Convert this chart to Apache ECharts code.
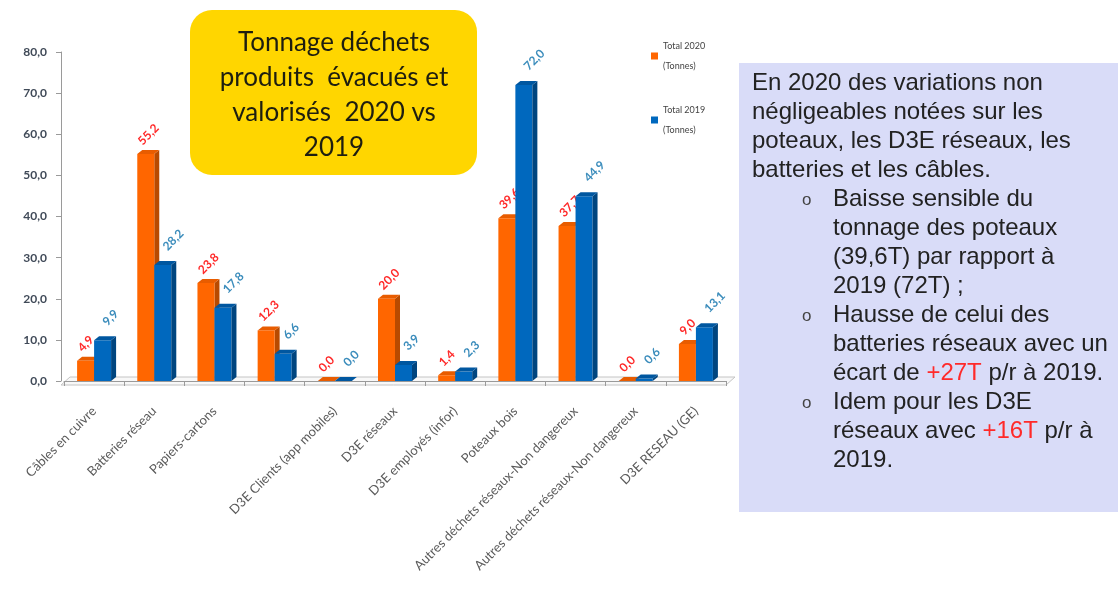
<!DOCTYPE html>
<html>
<head>
<meta charset="utf-8">
<script src="https://cdn.jsdelivr.net/npm/echarts@6/dist/echarts.min.js"></script>
<style>html,body{margin:0;padding:0;background:#fff;}#c{width:1118px;height:590px;}</style>
</head>
<body>
<div id="c"></div>
<script>
const categories = [
  "Câbles en cuivre", "Batteries réseau", "Papiers-cartons", "",
  "D3E Clients (app mobiles)", "D3E réseaux", "D3E employés (infor)",
  "Poteaux bois", "Autres déchets réseaux-Non dangereux",
  "Autres déchets réseaux-Non dangereux", "D3E RESEAU (GE)"
];
const total2020 = [4.9, 55.2, 23.8, 12.3, 0.0, 20.0, 1.4, 39.6, 37.7, 0.0, 9.0];
const total2019 = [9.9, 28.2, 17.8, 6.6, 0.0, 3.9, 2.3, 72.0, 44.9, 0.6, 13.1];
const seriesNames = ["Total 2020\n(Tonnes)", "Total 2019\n(Tonnes)"];
const yMin = 0, yMax = 80, yStep = 10;
const titleLines = ["Tonnage déchets", "produits  évacués et", "valorisés  2020 vs", "2019"];
const noteLines = [
  {t: "En 2020 des variations non", b: false, i: false},
  {t: "négligeables notées sur les", b: false, i: false},
  {t: "poteaux, les D3E réseaux, les", b: false, i: false},
  {t: "batteries et les câbles.", b: false, i: false},
  {t: "Baisse sensible du", b: true, i: true},
  {t: "tonnage des poteaux", b: false, i: true},
  {t: "(39,6T) par rapport à", b: false, i: true},
  {t: "2019 (72T) ;", b: false, i: true},
  {t: "Hausse de celui des", b: true, i: true},
  {t: "batteries réseaux avec un", b: false, i: true},
  {t: "écart de {r|+27T} p/r à 2019.", b: false, i: true},
  {t: "Idem pour les D3E", b: true, i: true},
  {t: "réseaux avec {r|+16T} p/r à", b: false, i: true},
  {t: "2019.", b: false, i: true}
];

const BW = 17, DX = 5, DY = 4;
const colors = {
  o: {face: '#FF6600', side: '#B84A00', top: '#E85C00'},
  b: {face: '#0068BE', side: '#00457F', top: '#0057A0'}
};
const fmt = v => v.toFixed(1).replace('.', ',');

function make3D(off, col) {
  return function (params, api) {
    const i = api.value(0), v = api.value(1);
    const t = api.coord([i, v]);
    const b = api.coord([i, 0]);
    const l = t[0] + off - BW / 2, r = l + BW, top = t[1], bot = b[1];
    return {
      type: 'group',
      children: [
        {type: 'polygon', shape: {points: [[r, top], [r + DX, top - DY], [r + DX, bot - DY], [r, bot]]}, style: {fill: col.side}},
        {type: 'polygon', shape: {points: [[l, top], [l + DX, top - DY], [r + DX, top - DY], [r, top]]}, style: {fill: col.top}}
      ]
    };
  };
}

function floorItem(params, api) {
  const cs = params.coordSys;
  const y = cs.y + cs.height;
  return {
    type: 'polygon',
    shape: {points: [[cs.x - 3, y + 4], [cs.x + 6, y - 4], [cs.x + cs.width + 9, y - 4], [cs.x + cs.width, y + 4]]},
    style: {fill: '#f8f8f8', stroke: '#c4c4c4', lineWidth: 1}
  };
}

const chart = echarts.init(document.getElementById('c'));
const graphics = [
  {type: 'rect', shape: {x: 190, y: 10, width: 287, height: 165, r: 22}, style: {fill: '#FFD600'}, z: 10},
  {type: 'text', x: 334, y: 95, z: 11, style: {
    text: titleLines.join('\n'), fill: '#1e1e10', font: '26px Lato', lineHeight: 35,
    textAlign: 'center', textVerticalAlign: 'middle'}},
  {type: 'rect', shape: {x: 739, y: 63, width: 380, height: 449}, style: {fill: '#D9DCF8'}, z: 10}
];
noteLines.forEach((ln, k) => {
  const y = 83 + k * 29;
  const x = ln.i ? 833 : 752;
  graphics.push({type: 'text', x: x, y: y, z: 11, style: {
    text: ln.t, fill: '#222', font: '24px "Liberation Sans"', textVerticalAlign: 'middle',
    rich: {r: {fill: '#FF2A2A', font: '24px "Liberation Sans"'}}}});
  if (ln.b) {
    graphics.push({type: 'text', x: 802, y: y + 1, z: 11, style: {
      text: 'o', fill: '#444', font: '17px "Liberation Sans"', textVerticalAlign: 'middle'}});
  }
});

chart.setOption({
  animation: false,
  backgroundColor: '#fff',
  grid: {left: 64, right: 392, top: 52, bottom: 209, containLabel: false},
  legend: {
    orient: 'vertical', left: 646, top: 31, itemWidth: 7, itemHeight: 7, itemGap: 24,
    icon: 'rect',
    data: [
      {name: seriesNames[0], itemStyle: {color: colors.o.face}},
      {name: seriesNames[1], itemStyle: {color: colors.b.face}}
    ],
    textStyle: {fontSize: 9, color: '#444', fontFamily: 'Lato', lineHeight: 20}
  },
  xAxis: {
    type: 'category', data: categories, offset: 4,
    axisLine: {lineStyle: {color: '#9a9a9a'}},
    axisTick: {show: true, alignWithLabel: false, length: 5, lineStyle: {color: '#9a9a9a'}},
    axisLabel: {interval: 0, rotate: 45, fontSize: 13, color: '#5a5a5a', fontFamily: 'Lato', margin: 24}
  },
  yAxis: {
    type: 'value', min: yMin, max: yMax, interval: yStep, offset: 3,
    splitLine: {show: false},
    axisLine: {show: true, lineStyle: {color: '#9a9a9a'}},
    axisTick: {show: true, length: 5, lineStyle: {color: '#9a9a9a'}},
    axisLabel: {formatter: v => fmt(v), fontSize: 12, fontWeight: 'bold', color: '#404a58', fontFamily: 'Lato', margin: 14}
  },
  series: [
    {type: 'custom', name: 'floor', silent: true, renderItem: floorItem, data: [[0, 0]], z: 0},
    {type: 'custom', name: '3d2020', renderItem: make3D(-BW / 2, colors.o), data: total2020.map((v, i) => [i, v]), z: 1, silent: true},
    {type: 'bar', name: seriesNames[0], data: total2020, barWidth: BW, barGap: '0%', z: 2,
      itemStyle: {color: colors.o.face},
      label: {show: true, position: 'top', rotate: 45, align: 'left', verticalAlign: 'middle', distance: 4, offset: [1, -9],
        formatter: p => fmt(p.value), color: '#FF2A2A', fontSize: 12, fontWeight: 'bold', fontFamily: 'Lato'}},
    {type: 'bar', name: seriesNames[1], data: total2019, barWidth: BW, barGap: '0%', z: 3,
      itemStyle: {color: colors.b.face},
      label: {show: true, position: 'top', rotate: 45, align: 'left', verticalAlign: 'middle', distance: 6, offset: [9, -6],
        formatter: p => fmt(p.value), color: '#3C8DBC', fontSize: 12, fontWeight: 'bold', fontFamily: 'Lato'}},
    {type: 'custom', name: '3d2019', renderItem: make3D(BW / 2, colors.b), data: total2019.map((v, i) => [i, v]), z: 4, silent: true}
  ],
  graphic: graphics
});
</script>
</body>
</html>
